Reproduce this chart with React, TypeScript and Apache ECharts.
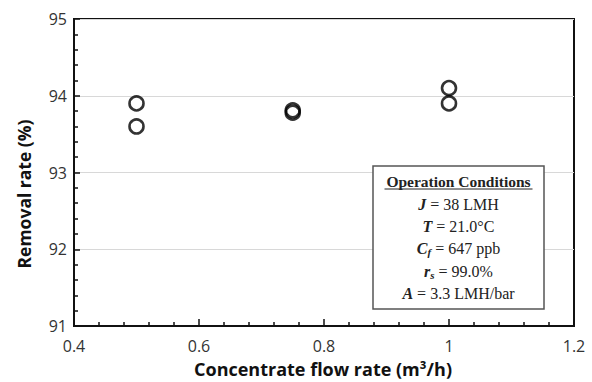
import React, { useEffect, useRef } from "react";
import * as echarts from "echarts";

const flowRates = [0.5, 0.5, 0.75, 0.75, 1.0, 1.0];
const removalRates = [93.9, 93.6, 93.81, 93.78, 94.1, 93.9];
const xTicks = [0.4, 0.6, 0.8, 1.0, 1.2];
const yTicks = [91, 92, 93, 94, 95];
const xTitle = "Concentrate flow rate (m³/h)";
const yTitle = "Removal rate (%)";
const conditionTitle = "Operation Conditions";
const conditionLines = [
  "{v|J}{n| = 38 LMH}",
  "{v|T}{n| = 21.0°C}",
  "{v|C}{s|f}{n| = 647 ppb}",
  "{v|r}{s|s}{n| = 99.0%}",
  "{v|A}{n| = 3.3 LMH/bar}",
];

const SANS = "'Open Sans', Lato, sans-serif";
const SERIF = "'Liberation Serif', 'DejaVu Serif', serif";

export default function App() {
  const ref = useRef<HTMLDivElement>(null);
  useEffect(() => {
    if (!ref.current) return;
    const chart = echarts.init(ref.current, undefined, { renderer: "svg" });
    const data = flowRates.map((x, i) => [x, removalRates[i]]);
    const boxL = 373, boxT = 166, boxW = 171, boxH = 143;
    const cx = boxL + boxW / 2;
    const graphics: any[] = [
      {
        type: "text",
        x: 323,
        y: 369,
        style: {
          text: xTitle,
          fontFamily: SANS,
          fontWeight: "bold",
          fontSize: 18,
          fill: "#111",
          align: "center",
          verticalAlign: "middle",
        },
      },
      {
        type: "text",
        x: 24,
        y: 194,
        rotation: Math.PI / 2,
        style: {
          text: yTitle,
          fontFamily: SANS,
          fontWeight: "bold",
          fontSize: 17.5,
          fill: "#111",
          align: "center",
          verticalAlign: "middle",
        },
      },
      {
        type: "rect",
        shape: { x: boxL, y: boxT, width: boxW, height: boxH },
        style: { fill: "#fff", stroke: "#555", lineWidth: 1.5 },
        z: 100,
      },
      {
        type: "text",
        x: cx,
        y: 181,
        style: {
          text: conditionTitle,
          fontFamily: SERIF,
          fontWeight: "bold",
          fontSize: 15.5,
          fill: "#222",
          align: "center",
          verticalAlign: "middle",
        },
        z: 101,
      },
      {
        type: "line",
        shape: { x1: cx - 74, y1: 189, x2: cx + 74, y2: 189 },
        style: { stroke: "#222", lineWidth: 1 },
        z: 101,
      },
    ];
    const lineYs = [204, 226, 248, 271, 293];
    conditionLines.forEach((t, i) => {
      graphics.push({
        type: "text",
        x: cx,
        y: lineYs[i],
        style: {
          text: t,
          align: "center",
          verticalAlign: "middle",
          fill: "#222",
          rich: {
            v: { fontFamily: SERIF, fontWeight: "bold", fontStyle: "italic", fontSize: 16, lineHeight: 19, fill: "#222" },
            s: { fontFamily: SERIF, fontWeight: "bold", fontStyle: "italic", fontSize: 11, lineHeight: 10, verticalAlign: "bottom", fill: "#222" },
            n: { fontFamily: SERIF, fontSize: 16, lineHeight: 19, fill: "#222" },
          },
        },
        z: 101,
      });
    });

    chart.setOption({
      animation: false,
      grid: {
        left: 74,
        top: 19,
        right: 18,
        bottom: 56,
        show: true,
        borderColor: "#111",
        borderWidth: 2,
        backgroundColor: "transparent",
      },
      xAxis: {
        type: "value",
        min: 0.4,
        max: 1.2,
        interval: 0.2,
        axisLine: { show: true, lineStyle: { color: "#111", width: 2 } },
        axisTick: { show: true, inside: true, length: 7, lineStyle: { color: "#111", width: 1.5 } },
        minorTick: { show: true, splitNumber: 5, length: 4, lineStyle: { color: "#111", width: 1.5 } },
        splitLine: { show: false },
        axisLabel: {
          fontFamily: SANS,
          fontSize: 16,
          color: "#333",
          margin: 12,
          formatter: (v: number) => {
            const m = xTicks.find((t) => Math.abs(t - v) < 1e-6);
            return m === undefined ? "" : Math.abs(m - 1) < 1e-6 ? "1" : m.toFixed(1);
          },
        },
      },
      yAxis: {
        type: "value",
        min: 91,
        max: 95,
        interval: 1,
        axisLine: { show: true, lineStyle: { color: "#111", width: 2 } },
        axisTick: { show: true, inside: true, length: 6, lineStyle: { color: "#111", width: 1.5 } },
        minorTick: { show: true, splitNumber: 5, length: 4, lineStyle: { color: "#111", width: 1.5 } },
        splitLine: { show: true, lineStyle: { color: "#d8d8d8", width: 1 } },
        axisLabel: {
          fontFamily: SANS,
          fontSize: 16,
          color: "#333",
          margin: 7,
          formatter: (v: number) => (yTicks.includes(v) ? String(v) : ""),
        },
      },
      series: [
        {
          type: "scatter",
          data,
          symbol: "circle",
          symbolSize: 14,
          itemStyle: { color: "rgba(255,255,255,0)", borderColor: "#000", borderWidth: 2.6 },
          z: 5,
        },
      ],
      graphic: graphics,
    });
    return () => chart.dispose();
  }, []);
  return <div ref={ref} style={{ width: 592, height: 382, position: "absolute", left: 0, top: 0 }} />;
}
